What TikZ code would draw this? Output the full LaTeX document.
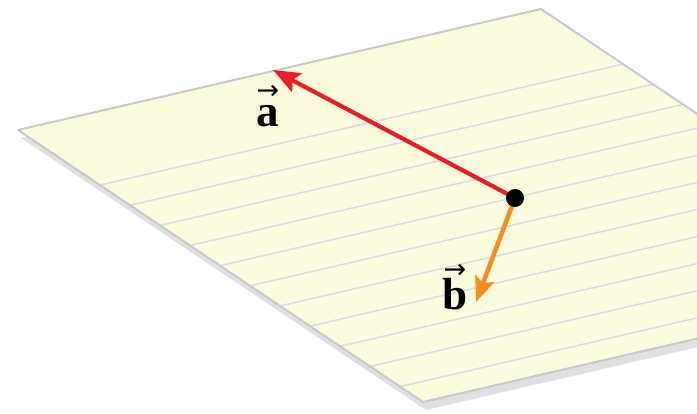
\documentclass[tikz,border=0pt]{standalone}
\usepackage{graphicx}
\usepackage{fontspec}
\setmainfont{Liberation Serif}
\newfontfamily\arrowfont{DejaVu Sans}
\usetikzlibrary{arrows.meta,calc}
\definecolor{paper}{RGB}{253,251,222}
\definecolor{edgegray}{RGB}{200,200,206}
\definecolor{shadegray}{RGB}{224,224,226}
\definecolor{rulegray}{RGB}{220,219,228}
\definecolor{vecred}{RGB}{233,30,38}
\definecolor{vecorange}{RGB}{246,142,32}
% letter with a small arrow above: #1 raise, #2 letter
\newcommand\arrowletter[2]{\setbox0\hbox{\textbf{#2}}%
  \rlap{\hbox to \wd0{\hss\raisebox{#1}{\arrowfont\fontsize{27}{27}\selectfont →}\hss}}\box0}
\begin{document}
\begin{tikzpicture}[x=1pt,y=-1pt,
  sheet/.style={fill=paper,draw=edgegray,line width=2pt,line join=round},
  sheetshadow/.style={fill=shadegray},
  ruling/.style={draw=rulegray,line width=1.6pt},
  redvec/.style={draw=vecred,line width=4.2pt,-{Stealth[length=27pt,width=21pt,inset=5pt]}},
  orangevec/.style={draw=vecorange,line width=4.6pt,-{Stealth[length=25pt,width=20pt,inset=5pt]}},
  dotstyle/.style={circle,fill=black,minimum size=18pt,inner sep=0pt},
  veclabel/.style={font=\fontsize{45}{50}\selectfont,inner sep=0pt,anchor=base}]
\useasboundingbox (0,0) rectangle (697,414);
\clip (0,0) rectangle (697,414);
\coordinate (L) at (18,130);
\coordinate (T) at (541,9);
\coordinate (B) at (423,402);
\coordinate (R) at (946,281);
% shadow / thickness of the sheet
\fill[sheetshadow] ($(L)+(3,8)$) -- ($(T)+(3,8)$) -- ($(R)+(3,8)$) -- ($(B)+(3,8)$) -- cycle;
% sheet
\fill[paper] (L) -- (T) -- (R) -- (B) -- cycle;
% ruled lines
\foreach \k in {0,...,10}{
  \pgfmathsetmacro{\t}{0.2025+0.0741*\k}
  \draw[ruling] ($(L)!\t!(B)$) -- ($(T)!\t!(R)$);
}
\draw[sheet,fill=none] (L) -- (T) -- (R) -- (B) -- cycle;
% vectors
\coordinate (o) at (515,198);
\coordinate (ta) at (273,70);
\coordinate (tb) at (476,302);
\draw[redvec] (o) -- (ta);
\draw[orangevec] (o) -- (tb);
\node[dotstyle] (dot) at (o) {};
\node[veclabel] (la) at (268,127) {\arrowletter{27pt}{a}};
\node[veclabel] (lb) at (455,310) {\arrowletter{31pt}{b}};
\end{tikzpicture}
\end{document}
